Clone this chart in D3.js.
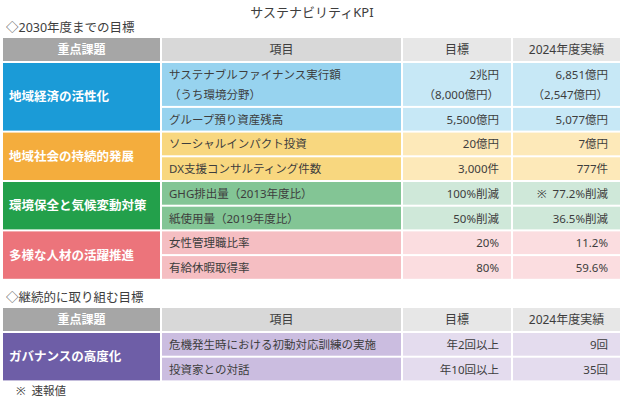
<!DOCTYPE html>
<html>
<head>
<meta charset="utf-8">
<script src="https://cdn.jsdelivr.net/npm/d3@7"></script>
<style>
  body { margin: 0; background: #fff; }
  text { font-family: "Noto Sans", "Noto Sans CJK JP", sans-serif; white-space: pre; }
</style>
</head>
<body>
<svg id="chart"></svg>
<script>
const title = "サステナビリティKPI";
const sectionTitles = ["◇2030年度までの目標", "◇継続的に取り組む目標"];
const headers = ["重点課題", "項目", "目標", "2024年度実績"];
const footnote = "※  速報値";

// section 1
const themes1 = ["地域経済の活性化", "地域社会の持続的発展", "環境保全と気候変動対策", "多様な人材の活躍推進"];
const themeOf1 = [0, 0, 1, 1, 2, 2, 3, 3];
const items1 = [
  "サステナブルファイナンス実行額\n（うち環境分野）",
  "グループ預り資産残高",
  "ソーシャルインパクト投資",
  "DX支援コンサルティング件数",
  "GHG排出量（2013年度比）",
  "紙使用量（2019年度比）",
  "女性管理職比率",
  "有給休暇取得率"
];
const targets1 = ["2兆円\n（8,000億円）", "5,500億円", "20億円", "3,000件", "100%削減", "50%削減", "20%", "80%"];
const actuals1 = ["6,851億円\n（2,547億円）", "5,077億円", "7億円", "777件", "※  77.2%削減", "36.5%削減", "11.2%", "59.6%"];

// section 2
const themes2 = ["ガバナンスの高度化"];
const themeOf2 = [0, 0];
const items2 = ["危機発生時における初動対応訓練の実施", "投資家との対話"];
const targets2 = ["年2回以上", "年10回以上"];
const actuals2 = ["9回", "35回"];

const colors1 = [
  ["#1b9bd7", "#97d3ef", "#c7e8f6"],
  ["#f4ad3d", "#f8d77f", "#fde9b9"],
  ["#23a04b", "#83c595", "#cfe8d9"],
  ["#ec747b", "#f5bec2", "#fbdde0"]
];
const colors2 = [["#6e5ea7", "#cbbde0", "#e4dcee"]];

const width = 624, height = 403;
const svg = d3.select("#chart").attr("width", width).attr("height", height);

// column edges
const colX = [3, 162, 403, 513];
const colW = [157, 239, 108, 107];
const gap = 2, rowH = 22.7, lineH = 19.5, headH = 23;
const textColor = "#3d3d3d";

svg.append("text")
  .attr("x", width / 2).attr("y", 12)
  .attr("text-anchor", "middle").attr("dominant-baseline", "central")
  .attr("font-size", 13).attr("fill", textColor)
  .text(title);

function drawSection(top, secTitle, themes, themeOf, items, targets, actuals, colors) {
  const g = svg.append("g");
  g.append("text")
    .attr("x", 6).attr("y", top - 10.5)
    .attr("dominant-baseline", "central")
    .attr("font-size", 12.5).attr("fill", textColor)
    .text(secTitle);

  // header row
  headers.forEach((h, i) => {
    g.append("rect")
      .attr("x", colX[i]).attr("y", top)
      .attr("width", colW[i]).attr("height", headH)
      .attr("fill", i === 0 ? "#a6a6a6" : i === 1 ? "#d8d8d8" : "#e7e7e7");
    g.append("text")
      .attr("x", colX[i] + colW[i] / 2).attr("y", top + headH / 2)
      .attr("text-anchor", "middle").attr("dominant-baseline", "central")
      .attr("font-size", 12)
      .attr("font-weight", i === 0 ? "bold" : "normal")
      .attr("fill", i === 0 ? "#fff" : textColor)
      .text(h);
  });

  // row positions
  const rows = items.map((d, i) => ({
    item: d, target: targets[i], actual: actuals[i], theme: themeOf[i],
    h: d.includes("\n") ? rowH * 2 - 2.5 : rowH
  }));
  let y = top + headH + gap;
  rows.forEach(r => { r.y = y; y += r.h + gap; });

  // theme cells
  themes.forEach((t, k) => {
    const rs = rows.filter(r => r.theme === k);
    const y0 = rs[0].y, y1 = rs[rs.length - 1].y + rs[rs.length - 1].h;
    g.append("rect")
      .attr("x", colX[0]).attr("y", y0)
      .attr("width", colW[0]).attr("height", y1 - y0)
      .attr("fill", colors[k][0]);
    g.append("text")
      .attr("x", colX[0] + 6).attr("y", (y0 + y1) / 2)
      .attr("dominant-baseline", "central")
      .attr("font-size", 12.5).attr("font-weight", "bold").attr("fill", "#fff")
      .text(t);
  });

  // body cells
  const cell = g.selectAll("g.row").data(rows).join("g").attr("class", "row");
  [1, 2, 3].forEach(c => {
    cell.append("rect")
      .attr("x", colX[c]).attr("y", d => d.y)
      .attr("width", colW[c]).attr("height", d => d.h)
      .attr("fill", d => colors[d.theme][c === 1 ? 1 : 2]);
  });
  const fields = [null, "item", "target", "actual"];
  [1, 2, 3].forEach(c => {
    cell.each(function (d) {
      const lines = d[fields[c]].split("\n");
      const cy = d.y + d.h / 2 - (lines.length - 1) * lineH / 2;
      d3.select(this).selectAll(null).data(lines).join("text")
        .attr("x", c === 1 ? colX[c] + 7 : colX[c] + colW[c] - 12)
        .attr("y", (l, j) => cy + j * lineH)
        .attr("text-anchor", c === 1 ? "start" : "end")
        .attr("dominant-baseline", "central")
        .attr("font-size", 11.5).attr("fill", textColor)
        .text(l => l);
    });
  });
  return y;
}

drawSection(38, sectionTitles[0], themes1, themeOf1, items1, targets1, actuals1, colors1);
const end2 = drawSection(308, sectionTitles[1], themes2, themeOf2, items2, targets2, actuals2, colors2);

svg.append("text")
  .attr("x", 16).attr("y", end2 + 8)
  .attr("dominant-baseline", "central")
  .attr("font-size", 11.5).attr("fill", textColor)
  .text(footnote);
</script>
</body>
</html>
